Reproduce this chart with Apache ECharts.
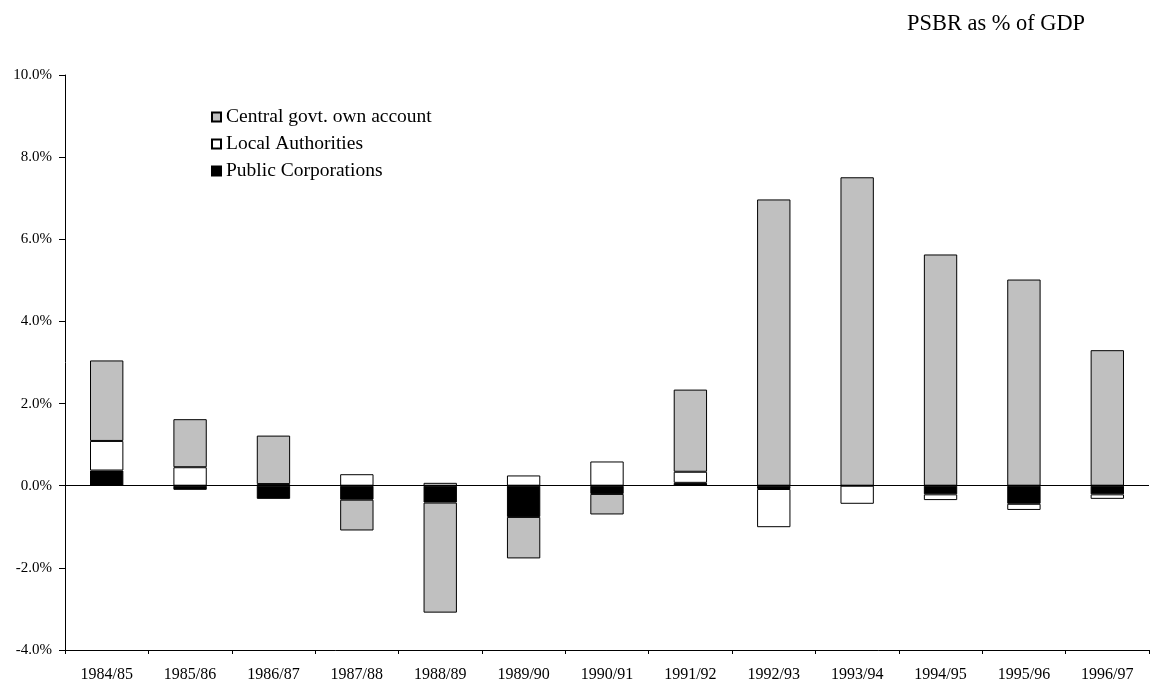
<!DOCTYPE html>
<html>
<head>
<meta charset="utf-8">
<script src="https://cdn.jsdelivr.net/npm/echarts@6/dist/echarts.min.js"></script>
<style>
  html, body { margin: 0; padding: 0; background: #fff; }
  #chart { width: 1155px; height: 684px; }
</style>
</head>
<body>
<div id="chart"></div>
<script>
// Financial years on the category axis
const years = ['1984/85', '1985/86', '1986/87', '1987/88', '1988/89', '1989/90', '1990/91',
               '1991/92', '1992/93', '1993/94', '1994/95', '1995/96', '1996/97'];

// Borrowing by sector, % of GDP
const publicCorporations = [0.37, -0.10, -0.32, -0.34, -0.41, -0.76, -0.20, 0.07, -0.08, 0.00, -0.21, -0.44, -0.21];
const localAuthorities   = [0.72, 0.45, 0.04, 0.28, 0.07, 0.25, 0.59, 0.27, -0.93, -0.44, -0.14, -0.15, -0.11];
const centralGovt        = [1.96, 1.17, 1.18, -0.75, -2.68, -1.01, -0.50, 2.00, 6.97, 7.51, 5.63, 5.02, 3.30];

const FONT = '"Liberation Serif", "Times New Roman", serif';

function barSeries(name, data, color, extra) {
  return Object.assign({
    name: name,
    type: 'bar',
    stack: 'psbr',
    data: data,
    barWidth: '40%',
    itemStyle: { color: color, borderColor: '#000', borderWidth: 1 },
    emphasis: { disabled: true },
    animation: false
  }, extra || {});
}

const chart = echarts.init(document.getElementById('chart'), null, { renderer: 'canvas' });

chart.setOption({
  backgroundColor: '#fff',
  animation: false,
  title: {
    text: 'PSBR as % of GDP',
    right: 65,
    top: 8,
    textStyle: { fontFamily: FONT, fontSize: 22.4, fontWeight: 'normal', color: '#000' }
  },
  legend: {
    orient: 'vertical',
    left: 206,
    top: 102,
    icon: 'rect',
    itemWidth: 9,
    itemHeight: 9,
    itemGap: 7,
    data: ['Central govt. own account', 'Local Authorities', 'Public Corporations'],
    textStyle: { fontFamily: FONT, fontSize: 19.5, color: '#000' },
    selectedMode: false
  },
  grid: { left: 65, right: 6, top: 75, bottom: 34, containLabel: false },
  xAxis: {
    type: 'category',
    data: years,
    axisLine: { onZero: false, lineStyle: { color: '#000', width: 1 } },
    axisTick: { show: true, length: 4, lineStyle: { color: '#000' } },
    axisLabel: { fontFamily: FONT, fontSize: 16, color: '#000', margin: 17, interval: 0 },
    splitLine: { show: false }
  },
  yAxis: {
    type: 'value',
    min: -4,
    max: 10,
    interval: 2,
    axisLine: { show: true, lineStyle: { color: '#000', width: 1 } },
    axisTick: { show: true, length: 6, lineStyle: { color: '#000' } },
    axisLabel: {
      fontFamily: FONT, fontSize: 15, color: '#000', margin: 13,
      formatter: v => v.toFixed(1) + '%'
    },
    splitLine: { show: false }
  },
  series: [
    barSeries('Public Corporations', publicCorporations, '#000000'),
    barSeries('Local Authorities', localAuthorities, '#ffffff'),
    barSeries('Central govt. own account', centralGovt, '#c0c0c0', {
      markLine: {
        silent: true,
        symbol: 'none',
        label: { show: false },
        lineStyle: { color: '#000', width: 1, type: 'solid' },
        data: [{ yAxis: 0 }]
      }
    })
  ]
});
</script>
</body>
</html>
